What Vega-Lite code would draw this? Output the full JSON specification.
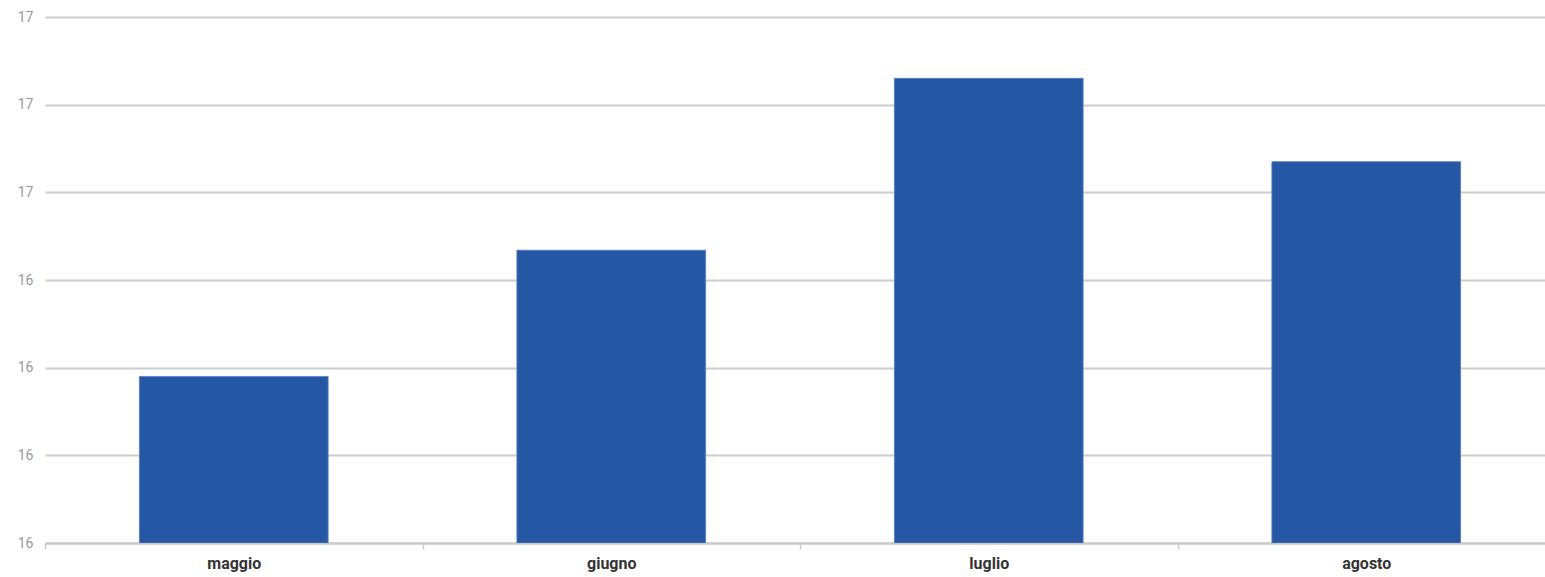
{
  "$schema": "https://vega.github.io/schema/vega-lite/v6.json",
  "autosize": {"type": "none"},
  "width": 1500,
  "height": 526,
  "padding": {"left": 45, "top": 17, "right": 0, "bottom": 34},
  "background": "white",
  "config": {"view": {"stroke": null}},
  "data": {"values": [
    {"mese": "maggio", "valore": 16.29},
    {"mese": "giugno", "valore": 16.434},
    {"mese": "luglio", "valore": 16.63},
    {"mese": "agosto", "valore": 16.535}
  ]},
  "mark": {"type": "bar", "color": "#2557A4", "stroke": "#5a7fbf", "strokeWidth": 0.8, "clip": true, "width": {"band": 0.5}},
  "encoding": {
    "x": {
      "field": "mese", "type": "nominal", "sort": null,
      "scale": {"paddingInner": 0, "paddingOuter": 0, "range": [0, 1510]},
      "axis": {
        "title": null, "labelAngle": 0, "labelFont": "Roboto", "labelFontWeight": "bold",
        "labelFontSize": 16, "labelColor": "#333333", "labelPadding": 6,
        "domainColor": "#c8c8c8", "domainWidth": 2, "tickColor": "#c8c8c8", "tickSize": 6,
        "tickWidth": 1.5, "tickBand": "extent", "grid": false
      }
    },
    "y": {
      "field": "valore", "type": "quantitative",
      "scale": {"domain": [16.1, 16.7], "zero": false, "nice": false},
      "axis": {
        "title": null, "values": [16.1, 16.2, 16.3, 16.4, 16.5, 16.6, 16.7],
        "labelExpr": "round(datum.value)", "labelOverlap": false,
        "labelFont": "Roboto", "labelFontSize": 14, "labelColor": "#9a9a9a", "labelPadding": 12,
        "domain": false, "ticks": false, "gridColor": "#cccccc", "gridWidth": 2
      }
    },
    "y2": {"datum": 16.1}
  }
}
